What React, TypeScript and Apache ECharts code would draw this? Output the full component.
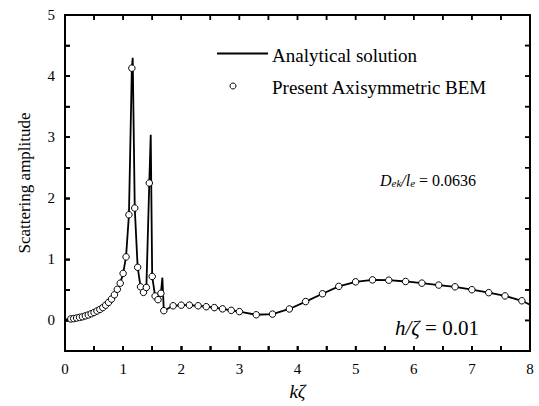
import React, { useEffect, useRef } from "react";
import * as echarts from "echarts";

// BEM sample points
const bemX = [
  0.1, 0.15, 0.2, 0.25, 0.3, 0.35, 0.4, 0.45, 0.5, 0.55, 0.6, 0.65, 0.7, 0.75, 0.8,
  0.85, 0.9, 0.95, 1.0, 1.05, 1.1, 1.15, 1.2, 1.25, 1.3, 1.35, 1.4, 1.45, 1.5, 1.55,
  1.6, 1.65, 1.7, 1.86, 2.0, 2.14, 2.29, 2.43, 2.57, 2.71, 2.86, 3.0, 3.29, 3.57,
  3.86, 4.14, 4.43, 4.71, 5.0, 5.29, 5.57, 5.86, 6.14, 6.43, 6.71, 7.0, 7.29, 7.57, 7.86,
];
const bemY = [
  0.025, 0.03, 0.04, 0.05, 0.06, 0.075, 0.09, 0.11, 0.13, 0.155, 0.18, 0.21, 0.25, 0.295, 0.35,
  0.42, 0.51, 0.61, 0.77, 1.04, 1.73, 4.13, 1.84, 0.87, 0.55, 0.46, 0.54, 2.25, 0.72, 0.4,
  0.34, 0.445, 0.16, 0.24, 0.25, 0.25, 0.24, 0.225, 0.21, 0.19, 0.165, 0.145, 0.093, 0.104,
  0.188, 0.309, 0.437, 0.558, 0.632, 0.664, 0.659, 0.638, 0.611, 0.579, 0.551, 0.503, 0.455, 0.402, 0.322,
];

// Analytical solution
const lineX = [
  0, 0.05, 0.1, 0.15, 0.2, 0.25, 0.3, 0.35, 0.4, 0.45, 0.5, 0.55, 0.6, 0.65, 0.7, 0.75, 0.8,
  0.85, 0.9, 0.95, 1.0, 1.05, 1.1, 1.15, 1.165, 1.2, 1.25, 1.3, 1.35, 1.4, 1.45, 1.475, 1.5, 1.55,
  1.6, 1.65, 1.675, 1.7, 1.86, 2.0, 2.14, 2.29, 2.43, 2.57, 2.71, 2.86, 3.0, 3.29, 3.57,
  3.86, 4.14, 4.43, 4.71, 5.0, 5.29, 5.57, 5.86, 6.14, 6.43, 6.71, 7.0, 7.29, 7.57, 7.86, 8.0,
];
const lineY = [
  0.01, 0.02, 0.025, 0.03, 0.04, 0.05, 0.06, 0.075, 0.09, 0.11, 0.13, 0.155, 0.18, 0.21, 0.25, 0.295, 0.35,
  0.42, 0.51, 0.61, 0.77, 1.04, 1.73, 4.13, 4.3, 1.84, 0.87, 0.55, 0.46, 0.54, 2.25, 3.04, 0.72, 0.4,
  0.34, 0.445, 0.7, 0.16, 0.24, 0.25, 0.25, 0.24, 0.225, 0.21, 0.19, 0.165, 0.145, 0.093, 0.104,
  0.188, 0.309, 0.437, 0.558, 0.632, 0.664, 0.659, 0.638, 0.611, 0.579, 0.551, 0.503, 0.455, 0.402, 0.322, 0.257,
];

// Axis ticks (every 0.5) and labelled values
const xTickVals = [0, 0.5, 1, 1.5, 2, 2.5, 3, 3.5, 4, 4.5, 5, 5.5, 6, 6.5, 7, 7.5, 8];
const yTickVals = [-0.5, 0, 0.5, 1, 1.5, 2, 2.5, 3, 3.5, 4, 4.5, 5];
const xTickLabels = ["0", "1", "2", "3", "4", "5", "6", "7", "8"];
const yTickLabels = ["0", "1", "2", "3", "4", "5"];
const X_MIN = 0, X_MAX = 8, Y_MIN = -0.5, Y_MAX = 5;

const FONT = "Liberation Serif";

export default function App() {
  const ref = useRef<HTMLDivElement>(null);
  useEffect(() => {
    document.body.style.margin = "0";
    const chart = echarts.init(ref.current!, null, { renderer: "svg" });
    const xFmt = (v: number) => {
      const s = String(v);
      return xTickLabels.includes(s) ? s : "";
    };
    const yFmt = (v: number) => {
      const s = String(v);
      return yTickLabels.includes(s) ? s : "";
    };
    const TICK = 5;
    const frameStyle = { stroke: "#000", lineWidth: 2, fill: "none" };
    const tickStyle = { stroke: "#000", lineWidth: 1.5 };
    const buildFrame = (toPx: (v: number[]) => number[]) => {
      const tl = toPx([X_MIN, Y_MAX]);
      const br = toPx([X_MAX, Y_MIN]);
      const children: any[] = [
        { type: "rect", shape: { x: tl[0], y: tl[1], width: br[0] - tl[0], height: br[1] - tl[1] }, style: frameStyle },
      ];
      xTickVals.forEach((v) => {
        const px = toPx([v, Y_MIN])[0];
        children.push({ type: "line", shape: { x1: px, y1: br[1], x2: px, y2: br[1] - TICK }, style: tickStyle });
        children.push({ type: "line", shape: { x1: px, y1: tl[1], x2: px, y2: tl[1] + TICK }, style: tickStyle });
      });
      yTickVals.forEach((v) => {
        const py = toPx([X_MIN, v])[1];
        children.push({ type: "line", shape: { x1: tl[0], y1: py, x2: tl[0] + TICK, y2: py }, style: tickStyle });
        children.push({ type: "line", shape: { x1: br[0], y1: py, x2: br[0] - TICK, y2: py }, style: tickStyle });
      });
      return children;
    };
    const baseGraphic: any[] = [
      { type: "line", shape: { x1: 217, y1: 53.5, x2: 268, y2: 53.5 }, style: { stroke: "#000", lineWidth: 1.8 } },
      { type: "text", x: 272, y: 55, style: { text: "Analytical solution", fontFamily: FONT, fontSize: 19, fill: "#000", verticalAlign: "middle" } },
      { type: "circle", shape: { cx: 233, cy: 86, r: 3 }, style: { fill: "#fff", stroke: "#000", lineWidth: 1 } },
      { type: "text", x: 272, y: 87, style: { text: "Present Axisymmetric BEM", fontFamily: FONT, fontSize: 19, fill: "#000", verticalAlign: "middle" } },
      {
        type: "text", x: 380, y: 178,
        style: {
          text: "{i|D}{s|ek}{i|/l}{s|e}{n| = 0.0636}",
          verticalAlign: "middle",
          rich: {
            i: { fontFamily: FONT, fontSize: 16, fontStyle: "italic", fill: "#000", lineHeight: 20, verticalAlign: "bottom" },
            s: { fontFamily: FONT, fontSize: 11, fontStyle: "italic", fill: "#000", lineHeight: 20, verticalAlign: "bottom", padding: [6, 0, 0, 0] },
            n: { fontFamily: FONT, fontSize: 16, fill: "#000", lineHeight: 20, verticalAlign: "bottom" },
          },
        },
      },
      {
        type: "text", x: 395, y: 328,
        style: {
          text: "{i|h/ζ}{n| = 0.01}",
          verticalAlign: "middle",
          rich: {
            i: { fontFamily: FONT, fontSize: 21, fontStyle: "italic", fill: "#000" },
            n: { fontFamily: FONT, fontSize: 21, fill: "#000" },
          },
        },
      },
    ];
    chart.setOption({
      animation: false,
      backgroundColor: "#fff",
      grid: { left: 65, right: 9, top: 15, bottom: 49, show: true, borderColor: "#000", borderWidth: 2 },
      xAxis: {
        type: "value", min: X_MIN, max: X_MAX, interval: 0.5,
        axisLine: { show: true, onZero: false, lineStyle: { color: "#000", width: 2 } },
        axisTick: { show: true, inside: true, length: TICK, lineStyle: { color: "#000", width: 1.5 } },
        splitLine: { show: false },
        axisLabel: { formatter: xFmt, color: "#000", fontFamily: FONT, fontSize: 15, margin: 10 },
        name: "kζ", nameLocation: "middle", nameGap: 31,
        nameTextStyle: { fontFamily: FONT, fontSize: 19, fontStyle: "italic", color: "#000" },
      },
      yAxis: {
        type: "value", min: Y_MIN, max: Y_MAX, interval: 0.5,
        axisLine: { show: true, onZero: false, lineStyle: { color: "#000", width: 2 } },
        axisTick: { show: true, inside: true, length: TICK, lineStyle: { color: "#000", width: 1.5 } },
        splitLine: { show: false },
        axisLabel: { formatter: yFmt, color: "#000", fontFamily: FONT, fontSize: 15, margin: 10 },
        name: "Scattering amplitude", nameLocation: "middle", nameGap: 32,
        nameTextStyle: { fontFamily: FONT, fontSize: 17, color: "#000" },
      },
      series: [
        {
          name: "frame",
          type: "custom",
          renderItem: (params: any, api: any) => ({ type: "group", children: buildFrame((v) => api.coord(v)) }),
          data: [[X_MIN, Y_MIN]],
          clip: false,
          silent: true,
          z: 1,
        },
        {
          name: "Analytical solution",
          type: "line",
          data: lineX.map((x, i) => [x, lineY[i]]),
          showSymbol: false,
          lineStyle: { color: "#000", width: 1.8 },
          z: 2,
        },
        {
          name: "Present Axisymmetric BEM",
          type: "scatter",
          data: bemX.map((x, i) => [x, bemY[i]]),
          symbol: "circle",
          symbolSize: 6.5,
          itemStyle: { color: "#fff", borderColor: "#000", borderWidth: 1, opacity: 1 },
          z: 3,
        },
      ],
      graphic: baseGraphic,
    });
    // redundant frame through the graphic component, placed with the chart's own scales
    const frameElems = buildFrame((v) => chart.convertToPixel({ gridIndex: 0 }, v) as number[]);
    chart.setOption({ graphic: [...baseGraphic, { type: "group", children: frameElems }] });
    return () => chart.dispose();
  }, []);
  return <div ref={ref} style={{ position: "fixed", left: 0, top: 0, width: 539, height: 406 }} />;
}
